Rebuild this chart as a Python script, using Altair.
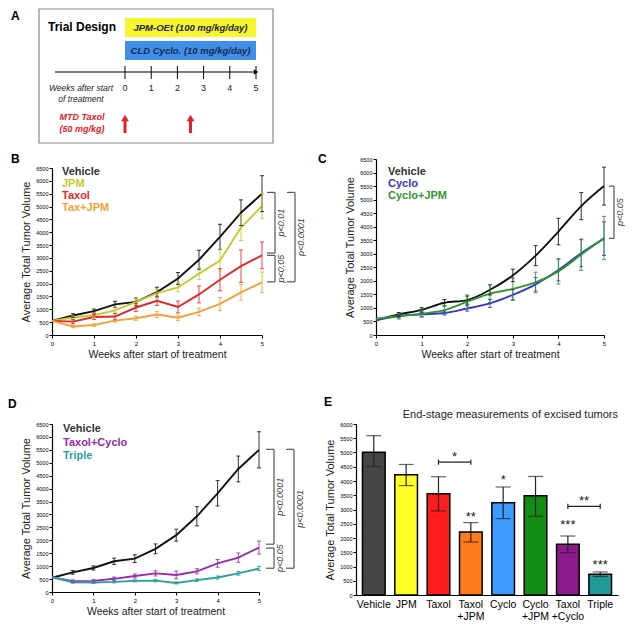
import altair as alt
import pandas as pd

FONT = "Liberation Sans"
GRAY = "#555555"

# ---------------- data ----------------
weeks = [0, 0.5, 1, 1.5, 2, 2.5, 3, 3.5, 4, 4.5, 5]

vehicle = [550, 760, 930, 1190, 1290, 1670, 2200, 2930, 3820, 4760, 5500]
vehicle_err = [0, 70, 80, 120, 150, 190, 230, 370, 490, 500, 700]
jpm = [550, 680, 770, 960, 1290, 1630, 1850, 2390, 2900, 4180, 5020]
jpm_err = [0, 60, 80, 100, 120, 150, 170, 230, 420, 500, 480]
taxol = [550, 520, 700, 720, 1070, 1330, 1090, 1580, 2150, 2680, 3100]
taxol_err = [0, 80, 100, 120, 150, 180, 230, 330, 430, 630, 520]
taxjpm = [550, 330, 390, 560, 650, 800, 670, 900, 1210, 1660, 2050]
taxjpm_err = [0, 50, 50, 60, 80, 120, 100, 150, 250, 300, 400]

cyclo = [540, 700, 760, 810, 980, 1170, 1480, 1870, 2400, 3020, 3560]
cyclo_err = [0, 70, 80, 70, 100, 150, 200, 250, 400, 500, 620]
cyclojpm = [600, 690, 790, 920, 1230, 1530, 1700, 1940, 2350, 2970, 3580]
cyclojpm_err = [0, 100, 130, 150, 250, 330, 400, 380, 470, 580, 800]

taxcyclo = [570, 420, 430, 510, 620, 720, 660, 800, 1110, 1330, 1720]
taxcyclo_err = [0, 50, 50, 70, 80, 100, 150, 100, 150, 180, 250]
triple = [570, 380, 370, 390, 430, 440, 350, 460, 560, 720, 910]
triple_err = [0, 40, 40, 40, 40, 50, 40, 50, 60, 70, 80]

end_groups = ["Vehicle", "JPM", "Taxol", "Taxol +JPM", "Cyclo", "Cyclo +JPM", "Taxol +Cyclo", "Triple"]
end_means = [5010, 4220, 3550, 2210, 3240, 3480, 1780, 730]
end_lo = [4510, 3840, 2950, 1860, 2680, 2760, 1480, 650]
end_hi = [5590, 4580, 4150, 2540, 3790, 4160, 2070, 810]
end_colors = ["#454545", "#ffff26", "#ff1c1c", "#ff7a1a", "#3d9bff", "#138c13", "#8c1a8c", "#1f9999"]

star_groups = ["Taxol +JPM", "Cyclo", "Taxol +Cyclo", "Triple"]
star_labels = ["**", "*", "***", "***"]
star_y = [2850, 4130, 2550, 1170]
pair_a = ["Taxol", "Taxol +Cyclo"]
pair_b = ["Taxol +JPM", "Triple"]
pair_y = [4660, 3110]
pair_labels = ["*", "**"]
pair_label_y = [4950, 3400]

design_weeks = [0, 1, 2, 3, 4, 5]
taxol_dose_weeks = [0, 2.5]
treatments = ["JPM-OEt (100 mg/kg/day)", "CLD Cyclo. (10 mg/kg/day)"]
treatment_colors = ["#f6f62e", "#3f8fe8"]
treatment_text_colors = ["#222222", "#17284f"]
treatment_start = [0, 0]
treatment_end = [5, 5]

ticks_6500 = list(range(0, 6501, 500))
ticks_6000 = list(range(0, 6001, 500))


def one(text):
    return alt.Chart(pd.DataFrame({"t": [text]}))


def txt(text, x, y, **kw):
    return one(text).mark_text(**kw).encode(x=alt.value(x), y=alt.value(y), text="t:N")


def yaxis_for(vals, title="Average Total Tumor Volume"):
    return alt.Axis(values=vals, tickCount=len(vals) + 2, format="d", title=title,
                    labelFontSize=5.5, titleFontSize=11, titlePadding=4, labelPadding=1,
                    labelOverlap=False, labelFlush=False)


# ---------------- panel A ----------------
OX = -13            # box starts left of the shared column origin
AW, AH = 221, 134   # AW = right edge of the box
a_px0, a_pxw = 73, 26.2
axs = alt.Scale(domain=[-a_px0 / a_pxw, (AW - a_px0) / a_pxw], range=[0, AW], nice=False, zero=False)

tr_df = pd.DataFrame({"name": treatments, "s": treatment_start, "e": treatment_end,
                      "mid": [(a + b) / 2 for a, b in zip(treatment_start, treatment_end)],
                      "fill": treatment_colors, "tc": treatment_text_colors})
wk_df = pd.DataFrame({"w": design_weeks, "lab": [str(w) for w in design_weeks]})
dose_df = pd.DataFrame({"w": taxol_dose_weeks})

A_layers = [
    one("box").mark_rect(fill="white", stroke="#8a8a8a", strokeWidth=1.2).encode(
        x=alt.value(OX), x2=alt.value(AW), y=alt.value(0), y2=alt.value(AH)),
    txt("A", OX - 28, 2, align="left", baseline="top", fontSize=12, fontWeight="bold"),
    txt("Trial Design", OX + 9, 18, align="left", baseline="middle", fontSize=12, fontWeight="bold"),
    alt.Chart(tr_df.iloc[[0]]).mark_rect().encode(
        x=alt.X("s:Q", scale=axs, axis=None), x2="e:Q", y=alt.value(9), y2=alt.value(28),
        color=alt.Color("fill:N", scale=None)),
    alt.Chart(tr_df.iloc[[1]]).mark_rect().encode(
        x=alt.X("s:Q", scale=axs, axis=None), x2="e:Q", y=alt.value(32), y2=alt.value(51),
        color=alt.Color("fill:N", scale=None)),
    alt.Chart(tr_df.iloc[[0]]).mark_text(fontSize=9.5, fontWeight="bold", fontStyle="italic").encode(
        x=alt.X("mid:Q", scale=axs, axis=None), y=alt.value(19), text="name:N",
        color=alt.Color("tc:N", scale=None)),
    alt.Chart(tr_df.iloc[[1]]).mark_text(fontSize=9.5, fontWeight="bold", fontStyle="italic").encode(
        x=alt.X("mid:Q", scale=axs, axis=None), y=alt.value(42), text="name:N",
        color=alt.Color("tc:N", scale=None)),
    one("line").mark_rule(color="black", strokeWidth=1).encode(
        x=alt.value(OX + 16), x2=alt.value(a_px0 + 5 * a_pxw), y=alt.value(63)),
    alt.Chart(wk_df).mark_rule(color="black", strokeWidth=1).encode(
        x=alt.X("w:Q", scale=axs, axis=None), y=alt.value(57), y2=alt.value(70)),
    alt.Chart(wk_df.iloc[[-1]]).mark_point(shape="triangle-right", filled=True, size=28, color="black", opacity=1).encode(
        x=alt.X("w:Q", scale=axs, axis=None), y=alt.value(63)),
    alt.Chart(wk_df).mark_text(fontSize=9, color="#222").encode(
        x=alt.X("w:Q", scale=axs, axis=None), y=alt.value(79), text="lab:N"),
    txt("Weeks after start", OX + 42, 79, fontSize=8.5, fontStyle="italic", color="#222"),
    txt("of treatment", OX + 42, 90, fontSize=8.5, fontStyle="italic", color="#222"),
    txt("MTD Taxol", OX + 43, 108, fontSize=9, fontStyle="italic", fontWeight="bold", color="#e8202a"),
    txt("(50 mg/kg)", OX + 43, 120, fontSize=9, fontStyle="italic", fontWeight="bold", color="#e8202a"),
    alt.Chart(dose_df).mark_rule(color="#e8202a", strokeWidth=3).encode(
        x=alt.X("w:Q", scale=axs, axis=None), y=alt.value(111), y2=alt.value(124)),
    alt.Chart(dose_df).mark_point(shape="triangle-up", filled=True, size=60, color="#e8202a", opacity=1).encode(
        x=alt.X("w:Q", scale=axs, axis=None), y=alt.value(109)),
]
panelA = alt.layer(*A_layers).properties(width=AW, height=AH)


# ---------------- line panels ----------------
def long_df(series):
    rows = []
    for name, vals, errs, col in series:
        for w, v, e in zip(weeks, vals, errs):
            rows.append({"name": name, "col": col, "week": w, "val": v, "err": e,
                         "lo": v - e, "hi": v + e})
    return pd.DataFrame(rows)


def bracket(top, bot, xv, label, ys, tick=8):
    d = pd.DataFrame({"top": [top], "bot": [bot], "mid": [(top + bot) / 2], "t": [label]})
    b = alt.Chart(d)
    return [
        b.mark_rule(color=GRAY, strokeWidth=1.2).encode(
            x=alt.value(xv), y=alt.Y("top:Q", scale=ys), y2="bot:Q"),
        b.mark_rule(color=GRAY, strokeWidth=1.2).encode(
            x=alt.value(xv - tick), x2=alt.value(xv), y=alt.Y("top:Q", scale=ys)),
        b.mark_rule(color=GRAY, strokeWidth=1.2).encode(
            x=alt.value(xv - tick), x2=alt.value(xv), y=alt.Y("bot:Q", scale=ys)),
        b.mark_text(angle=270, fontStyle="italic", fontSize=9, color="#333").encode(
            x=alt.value(xv + 6), y=alt.Y("mid:Q", scale=ys), text="t:N"),
    ]


def line_panel(series, W, H, top_px, letter, letter_xy, legend_x, legend_y, brackets,
               interp="linear", tick=8):
    df = long_df(series)
    colr = alt.Color("col:N", scale=None)
    xs = alt.Scale(domain=[0, 5], nice=False)
    ys = alt.Scale(domain=[0, 6500], range=[H, top_px], nice=False)
    xaxis = alt.Axis(values=[0, 1, 2, 3, 4, 5], tickCount=8, format="d",
                     title="Weeks after start of treatment",
                     labelFontSize=6, titleFontSize=10.5, titlePadding=3, labelPadding=2,
                     labelFlush=False, labelOverlap=False)
    yaxis = yaxis_for(ticks_6500)
    base = alt.Chart(df)
    ebase = base.transform_filter("datum.err > 0")
    layers = [
        base.mark_line(strokeWidth=1.9, interpolate=interp).encode(
            x=alt.X("week:Q", scale=xs, axis=xaxis), y=alt.Y("val:Q", scale=ys, axis=yaxis),
            color=colr, detail="name:N", order=alt.Order("week:Q")),
        ebase.mark_rule(strokeWidth=1, opacity=0.85).encode(
            x=alt.X("week:Q", scale=xs), y=alt.Y("lo:Q", scale=ys), y2="hi:Q", color=colr),
        ebase.mark_tick(orient="horizontal", size=4, thickness=1, opacity=0.85).encode(
            x=alt.X("week:Q", scale=xs), y=alt.Y("lo:Q", scale=ys), color=colr),
        ebase.mark_tick(orient="horizontal", size=4, thickness=1, opacity=0.85).encode(
            x=alt.X("week:Q", scale=xs), y=alt.Y("hi:Q", scale=ys), color=colr),
    ]
    for (nm, _, _, c), ly in zip(series, legend_y):
        lc = "#333333" if nm == "Vehicle" else c
        layers.append(txt(nm, legend_x, ly, align="left", baseline="middle", fontSize=11,
                          fontWeight="bold", color=lc))
    layers.append(txt(letter, letter_xy[0], letter_xy[1], align="left", baseline="middle",
                      fontSize=12, fontWeight="bold", color="black"))
    for br in brackets:
        layers += bracket(*br, ys, tick=tick)
    return alt.layer(*layers).properties(width=W, height=H)


BW, RH2 = 210, 176
panelB = line_panel(
    [("Vehicle", vehicle, vehicle_err, "#111111"),
     ("JPM", jpm, jpm_err, "#c6c92e"),
     ("Taxol", taxol, taxol_err, "#e3262b"),
     ("Tax+JPM", taxjpm, taxjpm_err, "#f5a033")],
    BW, RH2, 9, "B", (-41, 0), 10, [13, 25, 37, 49],
    [(5550, 3190, BW + 13, "p<0.01"), (3100, 2070, BW + 13, "p<0.05"), (5550, 2070, BW + 33, "p<0.0001")])

CW = 228
panelC = line_panel(
    [("Vehicle", vehicle, vehicle_err, "#111111"),
     ("Cyclo", cyclo, cyclo_err, "#3a32d2"),
     ("Cyclo+JPM", cyclojpm, cyclojpm_err, "#2e9a2e")],
    CW, RH2, 0, "C", (-58, 0), 12, [13, 25, 37],
    [(5500, 3570, CW + 10, "p<0.05")], interp="monotone", tick=5)

DW, DH = 207, 168
panelD = line_panel(
    [("Vehicle", vehicle, vehicle_err, "#111111"),
     ("Taxol+Cyclo", taxcyclo, taxcyclo_err, "#9a2aa8"),
     ("Triple", triple, triple_err, "#2aa0a0")],
    DW, DH, 0, "D", (-44, -20), 11, [5, 19, 32],
    [(5520, 1850, DW + 15, "p<0.0001"), (1700, 920, DW + 15, "p<0.05"), (5520, 920, DW + 35, "p<0.0001")])

# ---------------- panel E ----------------
EW, EH = 262, 171
e_df = pd.DataFrame({"g": end_groups, "m": end_means, "lo": end_lo, "hi": end_hi, "col": end_colors})
gx = alt.Scale(domain=end_groups, paddingInner=0.3, paddingOuter=0.2)
step = EW / (len(end_groups) - 0.3 + 0.4)
ey = alt.Scale(domain=[0, 6000], nice=False)
exaxis = alt.Axis(title=None, labelAngle=0, labelFontSize=10.5, labelColor="black",
                  labelExpr="split(datum.label, ' ')", ticks=False, labelPadding=4, labelLineHeight=12)
eyaxis = yaxis_for(ticks_6000)
star_df = pd.DataFrame({"g": star_groups, "t": star_labels, "y": star_y})
pair_df = pd.DataFrame({"a": pair_a, "b": pair_b, "y": pair_y, "t": pair_labels, "ty": pair_label_y})
pair_df["ylo"] = pair_df["y"] - 90
pair_df["yhi"] = pair_df["y"] + 90
pair_long = pd.concat([
    pair_df[["a", "ylo", "yhi"]].rename(columns={"a": "g"}),
    pair_df[["b", "ylo", "yhi"]].rename(columns={"b": "g"})])

E_layers = [
    alt.Chart(e_df).mark_bar(stroke="black", strokeWidth=1.5).encode(
        x=alt.X("g:N", scale=gx, axis=exaxis, sort=end_groups),
        y=alt.Y("m:Q", scale=ey, axis=eyaxis),
        color=alt.Color("col:N", scale=None)),
    alt.Chart(e_df).mark_rule(color="#222", strokeWidth=1.2).encode(
        x=alt.X("g:N", scale=gx, sort=end_groups), y=alt.Y("lo:Q", scale=ey), y2="hi:Q"),
    alt.Chart(e_df).mark_tick(orient="horizontal", size=15, thickness=1.2, color="#222").encode(
        x=alt.X("g:N", scale=gx, sort=end_groups), y=alt.Y("lo:Q", scale=ey)),
    alt.Chart(e_df).mark_tick(orient="horizontal", size=15, thickness=1.2, color="#222").encode(
        x=alt.X("g:N", scale=gx, sort=end_groups), y=alt.Y("hi:Q", scale=ey)),
    alt.Chart(star_df).mark_text(fontSize=13, baseline="middle", dy=3, color="#222").encode(
        x=alt.X("g:N", scale=gx, sort=end_groups), y=alt.Y("y:Q", scale=ey), text="t:N"),
    alt.Chart(pair_df).mark_rule(color="#222", strokeWidth=1.2).encode(
        x=alt.X("a:N", scale=gx, sort=end_groups), x2="b:N", y=alt.Y("y:Q", scale=ey)),
    alt.Chart(pair_long).mark_rule(color="#222", strokeWidth=1.2).encode(
        x=alt.X("g:N", scale=gx, sort=end_groups), y=alt.Y("ylo:Q", scale=ey), y2="yhi:Q"),
    alt.Chart(pair_df).mark_text(fontSize=13, baseline="middle", dy=3, dx=step / 2, color="#222").encode(
        x=alt.X("a:N", scale=gx, sort=end_groups), y=alt.Y("ty:Q", scale=ey), text="t:N"),
    txt("E", -32, -22, align="left", baseline="middle", fontSize=12, fontWeight="bold", color="black"),
    txt("End-stage measurements of excised tumors", EW, -9, align="right", baseline="middle",
        fontSize=11, color="#222"),
]
panelE = alt.layer(*E_layers).properties(width=EW, height=EH)

row2 = alt.hconcat(panelB, panelC, spacing=12)
row3 = alt.hconcat(panelD, panelE, spacing=18)
top = alt.vconcat(panelA, row2, spacing=9)
chart = alt.vconcat(top, row3, spacing=36).configure(font=FONT, padding=0).configure_view(
    stroke=None).configure_axis(
    domainColor="black", domainWidth=1.2, tickColor="black", tickSize=3, labelColor="black",
    titleColor="#222", titleFontWeight="normal", grid=False, labelFont=FONT, titleFont=FONT,
    labelOverlap=False
).configure_text(font=FONT)

chart.save("out.html", embed_options={"renderer": "svg", "actions": False})
